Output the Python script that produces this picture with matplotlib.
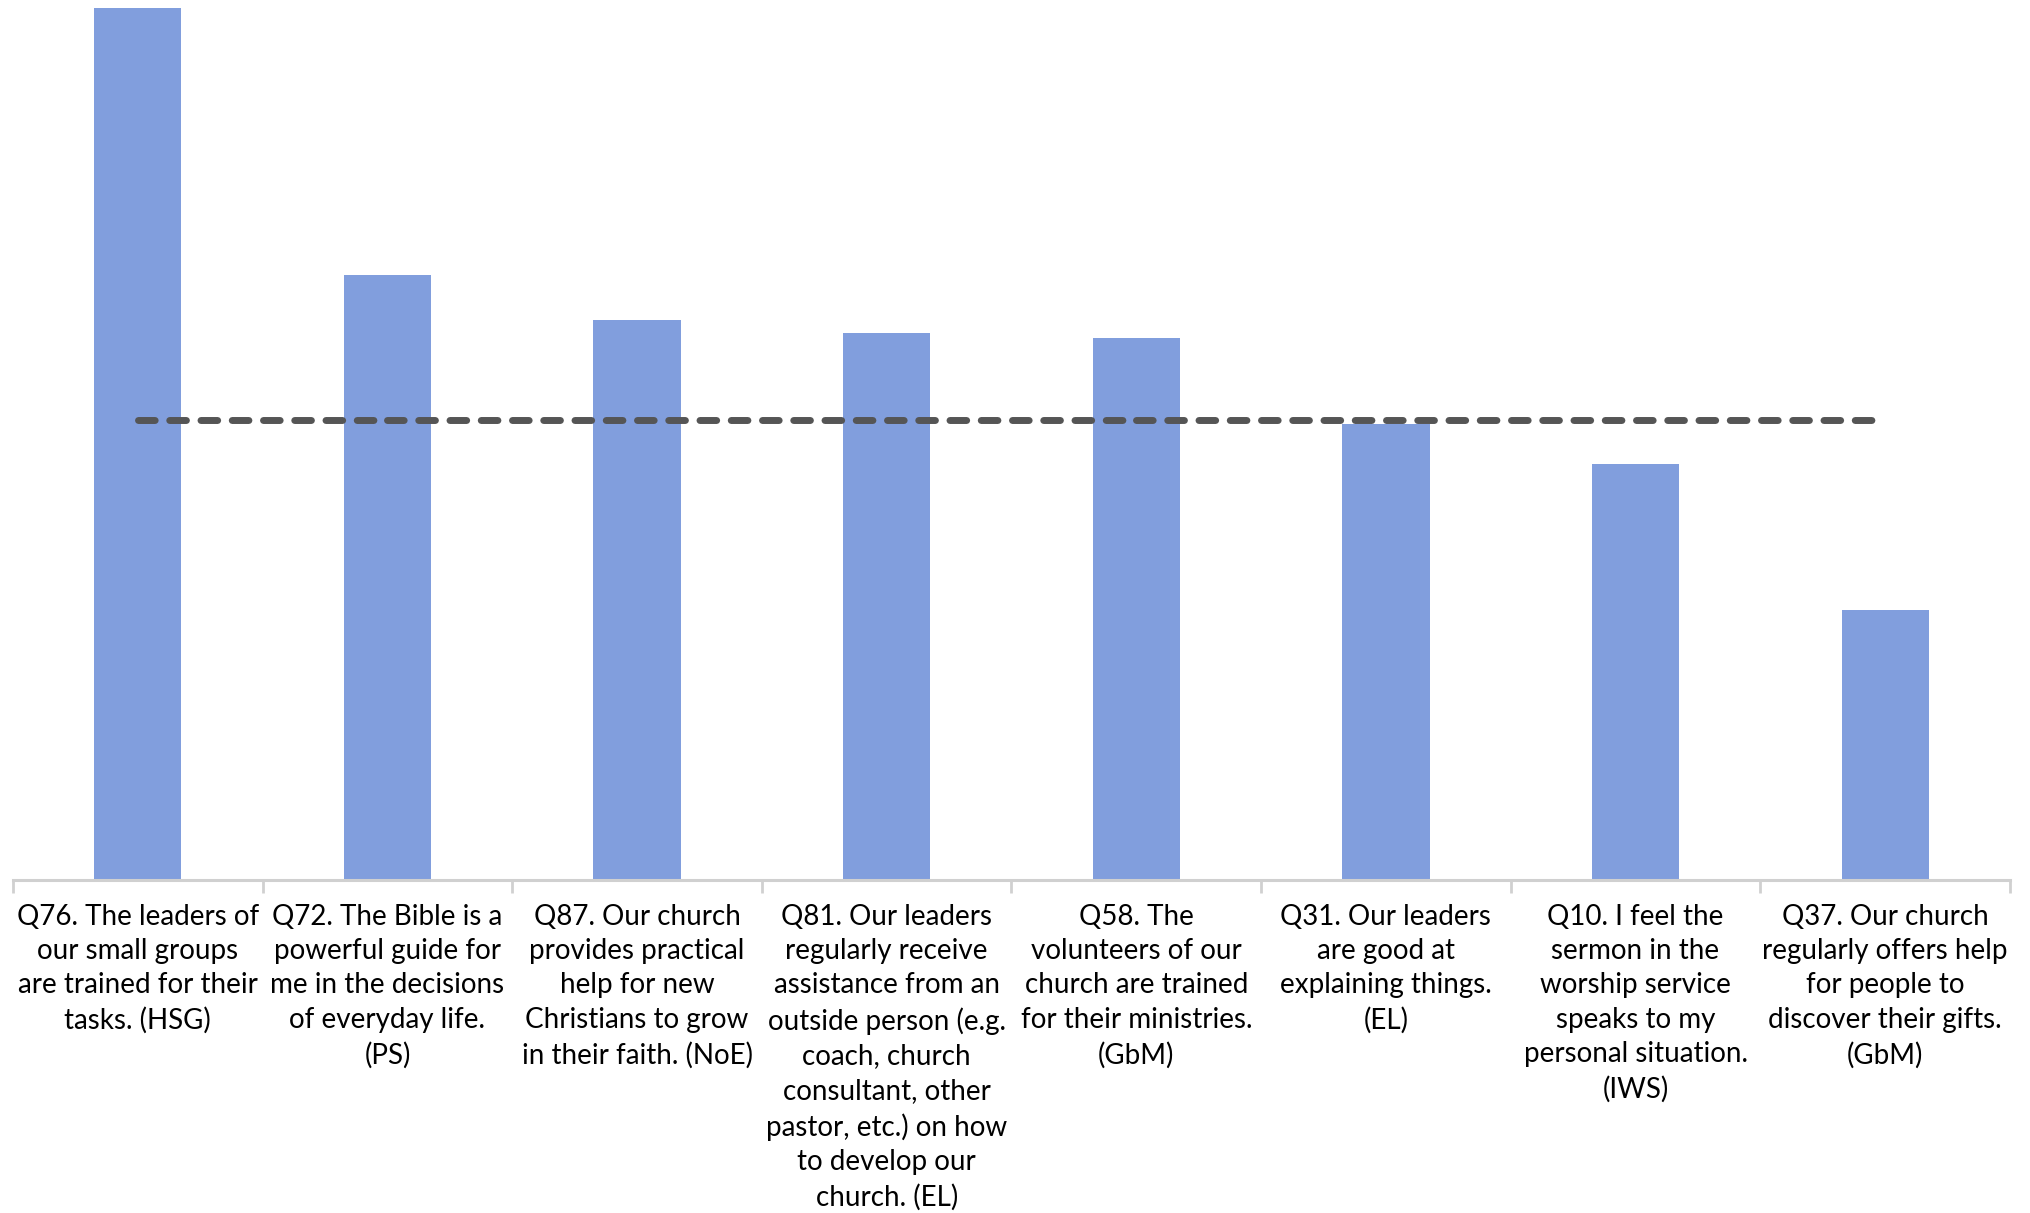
import matplotlib
matplotlib.use("Agg")
import matplotlib.pyplot as plt

plt.rcParams['font.family'] = ['Lato', 'DejaVu Sans']

labels = [
    "Q76. The leaders of\nour small groups\nare trained for their\ntasks. (HSG)",
    "Q72. The Bible is a\npowerful guide for\nme in the decisions\nof everyday life.\n(PS)",
    "Q87. Our church\nprovides practical\nhelp for new\nChristians to grow\nin their faith. (NoE)",
    "Q81. Our leaders\nregularly receive\nassistance from an\noutside person (e.g.\ncoach, church\nconsultant, other\npastor, etc.) on how\nto develop our\nchurch. (EL)",
    "Q58. The\nvolunteers of our\nchurch are trained\nfor their ministries.\n(GbM)",
    "Q31. Our leaders\nare good at\nexplaining things.\n(EL)",
    "Q10. I feel the\nsermon in the\nworship service\nspeaks to my\npersonal situation.\n(IWS)",
    "Q37. Our church\nregularly offers help\nfor people to\ndiscover their gifts.\n(GbM)",
]
scores = [67.3, 46.7, 43.2, 42.2, 41.8, 35.2, 32.1, 20.8]
reference = [35.5] * 8

fig = plt.figure(figsize=(20.31, 12.13), dpi=100)
ax = fig.add_axes([13 / 2031, 333 / 1213, 1997 / 2031, 872 / 1213])

x = list(range(len(scores)))
ax.bar(x, scores, width=0.35, color='#819EDD', zorder=2)

# reference line, drawn segment by segment between the category centres
for i in range(len(x) - 1):
    ax.plot(x[i:i + 2], reference[i:i + 2], color='#555555', lw=5,
            dashes=(2.4, 2.1), dash_capstyle='round', zorder=3)

ax.set_xlim(-0.5, len(x) - 0.5)
ax.set_ylim(0, max(scores))

for s in ['top', 'left', 'right']:
    ax.spines[s].set_visible(False)
ax.spines['bottom'].set_color('#D0D0D0')
ax.spines['bottom'].set_linewidth(2.2)
ax.spines['bottom'].set_clip_on(False)
ax.set_yticks([])

ax.set_xticks([i - 0.5 for i in range(len(x) + 1)])
ax.set_xticklabels([])
ax.tick_params(axis='x', which='major', length=9, width=2, color='#D0D0D0')
ax.set_xticks(x, labels, minor=True)
ax.tick_params(axis='x', which='minor', length=0, pad=17, labelsize=20,
               labelcolor='black')
for t in ax.get_xticklabels(minor=True):
    t.set_horizontalalignment('center')
    t.set_multialignment('center')
    t.set_linespacing(1.40)

fig.savefig('out.png', dpi=100)
